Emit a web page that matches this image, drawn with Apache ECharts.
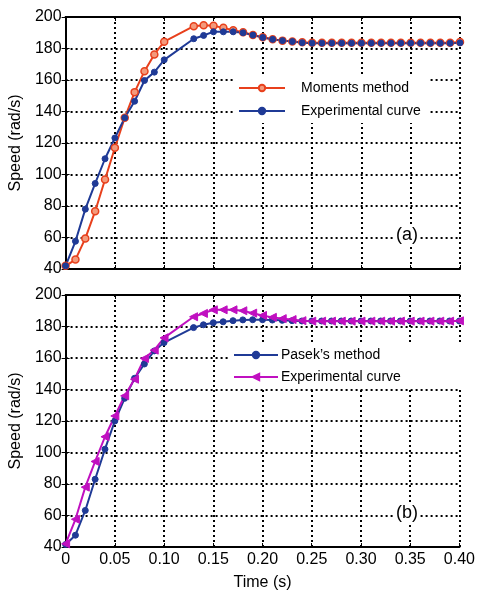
<!DOCTYPE html>
<html>
<head>
<meta charset="utf-8">
<script src="https://cdn.jsdelivr.net/npm/echarts@6/dist/echarts.min.js"></script>
<style>
  html, body { margin: 0; padding: 0; background: #fff; }
  #chart { width: 478px; height: 592px; }
</style>
</head>
<body>
<div id="chart"></div>
<script>
// time samples (s)
const times = [0, 0.01, 0.02, 0.03, 0.04, 0.05, 0.06, 0.07, 0.08, 0.09, 0.10,
  0.13, 0.14, 0.15, 0.16, 0.17, 0.18, 0.19, 0.20, 0.21, 0.22, 0.23, 0.24, 0.25,
  0.26, 0.27, 0.28, 0.29, 0.30, 0.31, 0.32, 0.33, 0.34, 0.35, 0.36, 0.37, 0.38, 0.39, 0.40]

// measured speed, rad/s (same in both panels)
const experimental = [42, 57.6, 78, 94.3, 110, 123.2, 136, 146.5, 159.7, 165, 172.8,
  186.2, 188.3, 190.6, 190.6, 190.6, 190, 188.5, 187, 185.8, 185, 184.4, 183.7, 183.4,
  183.4, 183.4, 183.4, 183.4, 183.4, 183.4, 183.4, 183.4, 183.4, 183.4, 183.4, 183.4, 183.4, 183.4, 183.6]

const moments = [42, 46, 59.4, 76.7, 96.8, 117, 136, 152.3, 165.6, 176.2, 184.3,
  194.2, 194.8, 194.4, 193.1, 191.6, 190.3, 188.6, 187.2, 185.9, 185, 184.4, 183.9, 183.6,
  183.6, 183.6, 183.6, 183.6, 183.6, 183.6, 183.6, 183.6, 183.6, 183.6, 183.6, 183.6, 183.6, 183.6, 184.2]

const pasek = [41.6, 47.5, 63.2, 83, 102.1, 120, 134.4, 147.1, 156.2, 164.5, 169.8,
  179.3, 181.1, 182.4, 183, 183.7, 184.2, 184.3, 184.3, 184.1, 183.9, 183.7, 183.5, 183.5,
  183.5, 183.5, 183.5, 183.5, 183.5, 183.5, 183.5, 183.5, 183.5, 183.5, 183.5, 183.5, 183.5, 183.5, 183.5]

const xTicks = { min: 0, max: 0.4, interval: 0.05 }
const yTicks = { min: 40, max: 200, interval: 20 }

const RED = '#e8401c'
const BLUE = '#1f3a96'
const MAGENTA = '#c010c0'
const FONT = 'Liberation Sans, Arial, sans-serif'

const pairs = (ys) => times.map((t, i) => [t, ys[i]])

const grids = [
  { left: 65, top: 17, width: 395, height: 252 },
  { left: 65, top: 295, width: 395, height: 252 },
]

const dotted = { show: true, lineStyle: { color: '#000', width: 2, type: [2, 3] } }
const frame = { show: true, lineStyle: { color: '#000', width: 2 } }
const tick = { show: true, inside: true, length: 4, lineStyle: { color: '#000', width: 1 } }
const axisFont = { color: '#000', fontSize: 16, fontFamily: FONT }

function xAxisFor(gi, showLabels) {
  return {
    type: 'value', gridIndex: gi, ...xTicks,
    axisLine: frame, axisTick: tick, splitLine: dotted,
    axisLabel: {
      show: showLabels, ...axisFont, margin: 5,
      formatter: (v) => (v === 0 ? '0' : v.toFixed(2)),
    },
    name: showLabels ? 'Time (s)' : '',
    nameLocation: 'middle', nameGap: 28,
    nameTextStyle: axisFont,
  }
}

function yAxisFor(gi) {
  return {
    type: 'value', gridIndex: gi, ...yTicks,
    axisLine: frame, axisTick: tick, splitLine: dotted,
    axisLabel: { ...axisFont, margin: 4 },
    name: 'Speed (rad/s)', nameLocation: 'middle', nameGap: 34,
    nameTextStyle: axisFont,
  }
}

// top/right frame edges with inside ticks
function frameX(gi) {
  return { type: 'value', gridIndex: gi, position: 'top', ...xTicks,
    axisLine: frame, axisTick: tick, axisLabel: { show: false }, splitLine: { show: false } }
}
function frameY(gi) {
  return { type: 'value', gridIndex: gi, position: 'right', ...yTicks,
    axisLine: frame, axisTick: tick, axisLabel: { show: false }, splitLine: { show: false } }
}

function lineSeries(name, data, color, xi, yi, symbol, size, extra) {
  return {
    name, type: 'line', xAxisIndex: xi, yAxisIndex: yi, data: pairs(data),
    symbol, symbolSize: size, showAllSymbol: true,
    lineStyle: { color, width: 2 },
    itemStyle: { color, borderColor: color, borderWidth: 1 },
    emphasis: { disabled: true },
    animation: false,
    ...extra,
  }
}

const legendText = { color: '#000', fontSize: 14, fontFamily: FONT, lineHeight: 16 }

const option = {
  backgroundColor: '#fff',
  animation: false,
  grid: grids,
  xAxis: [xAxisFor(0, false), xAxisFor(1, true), frameX(0), frameX(1)],
  yAxis: [yAxisFor(0), yAxisFor(1), frameY(0), frameY(1)],
  legend: [
    {
      data: ['Moments method', 'Experimental curve'],
      orient: 'vertical', left: 234, top: 76,
      itemWidth: 46, itemHeight: 8, itemGap: 7,
      padding: [4, 8, 4, 4],
      backgroundColor: '#fff',
      textStyle: { ...legendText, padding: [0, 0, 0, 11] },
      selectedMode: false,
    },
    {
      data: ['Pasek\u2019s method', 'Experimental curve '],
      orient: 'vertical', left: 229, top: 343,
      itemWidth: 44, itemHeight: 8, itemGap: 6,
      padding: [4, 60, 4, 4],
      backgroundColor: '#fff',
      textStyle: { ...legendText, padding: [0, 0, 0, -2] },
      selectedMode: false,
    },
  ],
  graphic: [
    { type: 'text', left: 394, top: 226, z: 10,
      style: { text: '(a)', font: '18px ' + FONT, fill: '#000', backgroundColor: '#fff', padding: [0, 2] } },
    { type: 'text', left: 394, top: 504, z: 10,
      style: { text: '(b)', font: '18px ' + FONT, fill: '#000', backgroundColor: '#fff', padding: [0, 2] } },
  ],
  series: [
    lineSeries('Moments method', moments, RED, 0, 0, 'circle', 7,
      { itemStyle: { color: '#f39a7c', borderColor: RED, borderWidth: 1.5 } }),
    lineSeries('Experimental curve', experimental, BLUE, 0, 0, 'circle', 6),
    lineSeries('Pasek\u2019s method', pasek, BLUE, 1, 1, 'circle', 6),
    lineSeries('Experimental curve ', experimental, MAGENTA, 1, 1, 'triangle', 8,
      { symbolRotate: 90 }),
  ],
}

const chart = echarts.init(document.getElementById('chart'), null, { renderer: 'canvas' })
chart.setOption(option)
window.addEventListener('resize', () => chart.resize())
</script>
</body>
</html>
